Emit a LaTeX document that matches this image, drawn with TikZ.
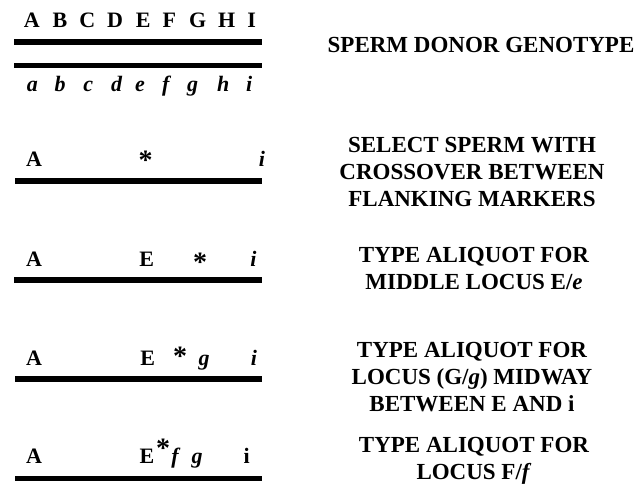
\documentclass[tikz,border=0pt]{standalone}
\usepackage{fontspec}
\setmainfont{Liberation Serif}
\usepackage{tikz}

\tikzset{
  chrom/.style={line width=5.5pt},
  locus/.style={inner sep=0pt, anchor=base, font=\fontsize{22}{26}\selectfont\bfseries},
  mut/.style={locus, font=\fontsize{22}{26}\selectfont\bfseries\itshape},
  star/.style={inner sep=0pt, anchor=north, font=\fontsize{28}{30}\selectfont\bfseries},
  note/.style={inner sep=0pt, align=center, anchor=north, font=\fontsize{23}{27}\selectfont\bfseries}
}

\begin{document}
\begin{tikzpicture}[x=1pt,y=-1pt]
        \useasboundingbox (0,0) rectangle (644,485);
        % donor
        \foreach \L/\x in {A/31.7,B/60,C/87.3,D/115,E/143.3,F/169.3,G/197.7,H/226.7,I/251.7}
            \node[locus] (top\L) at(\x,27.3) {\L};
        \draw[chrom] (14,42)--(262,42);
        \draw[chrom] (14,65.5)--(262,65.5);
        \foreach \l/\x in {a/32.3,b/60,c/88.3,d/116.7,e/140,f/165.7,g/192.7,h/223.3,i/249.3}
            \node[mut] (bot\l) at(\x,91) {\l};
        \node[note, anchor=base] (donor) at(481,52) {SPERM DONOR GENOTYPE};
        % crossover
        \node[locus] (xA) at(34,166.7) {A};
        \node[star] (xstar) at(145.7,150.5) {*};
        \node[mut] (xi) at(262,166.7) {i};
        \draw[chrom] (15,181)--(262,181);
        \node[note] (select) at(472,137.5) {SELECT SPERM WITH\\CROSSOVER BETWEEN\\FLANKING MARKERS};
        % middle locus
        \node[locus] (mA) at(34,266.7) {A};
        \node[locus] (mE) at(146.7,266.7) {E};
        \node[star] (mstar) at(200,253) {*};
        \node[mut] (mi) at(253.5,266.7) {i};
        \draw[chrom] (14,280)--(262,280);
        \node[note] (middle) at(474,247) {TYPE ALIQUOT FOR\\MIDDLE LOCUS E/\textit{e}};
        % G/g
        \node[locus] (gA) at(34,365) {A};
        \node[locus] (gE) at(147.7,365) {E};
        \node[star] (gstar) at(180,347) {*};
        \node[mut] (gg) at(204,365) {g};
        \node[mut] (gi) at(254,365) {i};
        \draw[chrom] (15,379)--(262,379);
        \node[note] (midway) at(472,342) {TYPE ALIQUOT FOR\\LOCUS (G/\textit{g}) MIDWAY\\BETWEEN E AND i};
        % F/f
        \node[locus] (fA) at(34,463) {A};
        \node[locus] (fE) at(147,463) {E};
        \node[star] (fstar) at(163,439) {*};
        \node[mut] (ff) at(175,463) {f};
        \node[mut] (fg) at(197,463) {g};
        \node[locus] (fi) at(246.7,463) {i};
        \draw[chrom] (15,478.5)--(262,478.5);
        \node[note] (locusf) at(474,437.5) {TYPE ALIQUOT FOR\\LOCUS F/\textit{f}};
    \end{tikzpicture}
\end{document}
